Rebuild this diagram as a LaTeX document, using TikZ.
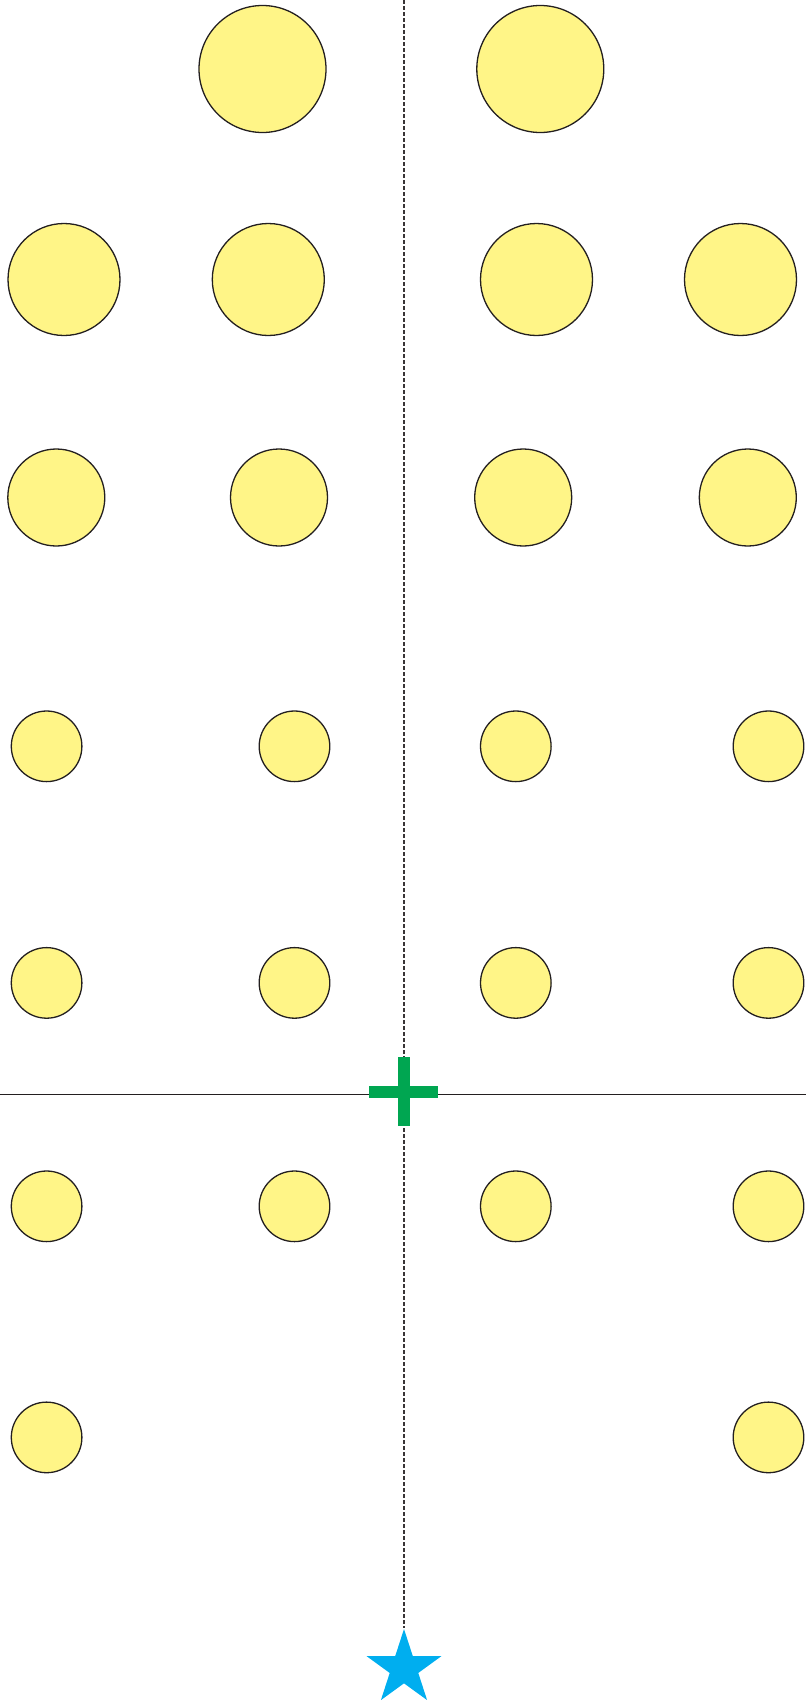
\documentclass[tikz,border=0pt]{standalone}
\usetikzlibrary{shapes.geometric}
\definecolor{dotyellow}{RGB}{255,245,135}
\definecolor{dotline}{RGB}{35,31,32}
\definecolor{crossgreen}{RGB}{0,166,81}
\definecolor{starblue}{RGB}{0,174,239}
\tikzset{
  dot/.style={circle, draw=dotline, fill=dotyellow, line width=1.3pt, inner sep=0pt},
  bigdot/.style={dot, minimum size=127pt},
  middot/.style={dot, minimum size=112pt},
  smalldot/.style={dot, minimum size=97pt},
  tinydot/.style={dot, minimum size=70.6pt},
  axisline/.style={draw=dotline, line width=1.1pt},
  centerline/.style={draw=dotline!90, line width=1.5pt, dash pattern=on 4pt off 2pt},
  starmark/.style={star, star points=5, star point ratio=2.618, fill=starblue, draw=none, inner sep=0pt, minimum size=78.6pt}
}
\begin{document}
\begin{tikzpicture}[x=1pt,y=-1pt]
\useasboundingbox (0,0) rectangle (806,1700);
% guide lines
\coordinate (topc) at (404,0);
\coordinate (hl) at (0,1094.7);
\coordinate (hr) at (806,1094.7);
\node[starmark] (star) at (404,1668.3) {};
\draw[centerline] (topc) -- (star.north);
\draw[axisline] (hl) -- (hr);
% cross
\fill[crossgreen] (398.2,1056.7) rectangle (409.8,1126);
\fill[crossgreen] (369,1086) rectangle (437.7,1097.6);
% row 1
\node[bigdot] (r1a) at (262.5,69) {};
\node[bigdot] (r1b) at (540.3,69) {};
% row 2
\node[middot] (r2a) at (64,279.5) {};
\node[middot] (r2b) at (268.3,279.5) {};
\node[middot] (r2c) at (536.5,279.5) {};
\node[middot] (r2d) at (740.5,279.5) {};
% row 3
\node[smalldot] (r3a) at (56.3,497.5) {};
\node[smalldot] (r3b) at (279,497.5) {};
\node[smalldot] (r3c) at (523.2,497.5) {};
\node[smalldot] (r3d) at (747.8,497.5) {};
% row 4
\node[tinydot] (r4a) at (46.6,746.3) {};
\node[tinydot] (r4b) at (294.5,746.3) {};
\node[tinydot] (r4c) at (515.8,746.3) {};
\node[tinydot] (r4d) at (768.5,746.3) {};
% row 5
\node[tinydot] (r5a) at (46.6,982.9) {};
\node[tinydot] (r5b) at (294.5,982.9) {};
\node[tinydot] (r5c) at (515.8,982.9) {};
\node[tinydot] (r5d) at (768.5,982.9) {};
% row 6
\node[tinydot] (r6a) at (46.6,1206.3) {};
\node[tinydot] (r6b) at (294.5,1206.3) {};
\node[tinydot] (r6c) at (515.8,1206.3) {};
\node[tinydot] (r6d) at (768.5,1206.3) {};
% row 7
\node[tinydot] (r7a) at (46.6,1437.4) {};
\node[tinydot] (r7d) at (768.5,1437.4) {};
\end{tikzpicture}
\end{document}
